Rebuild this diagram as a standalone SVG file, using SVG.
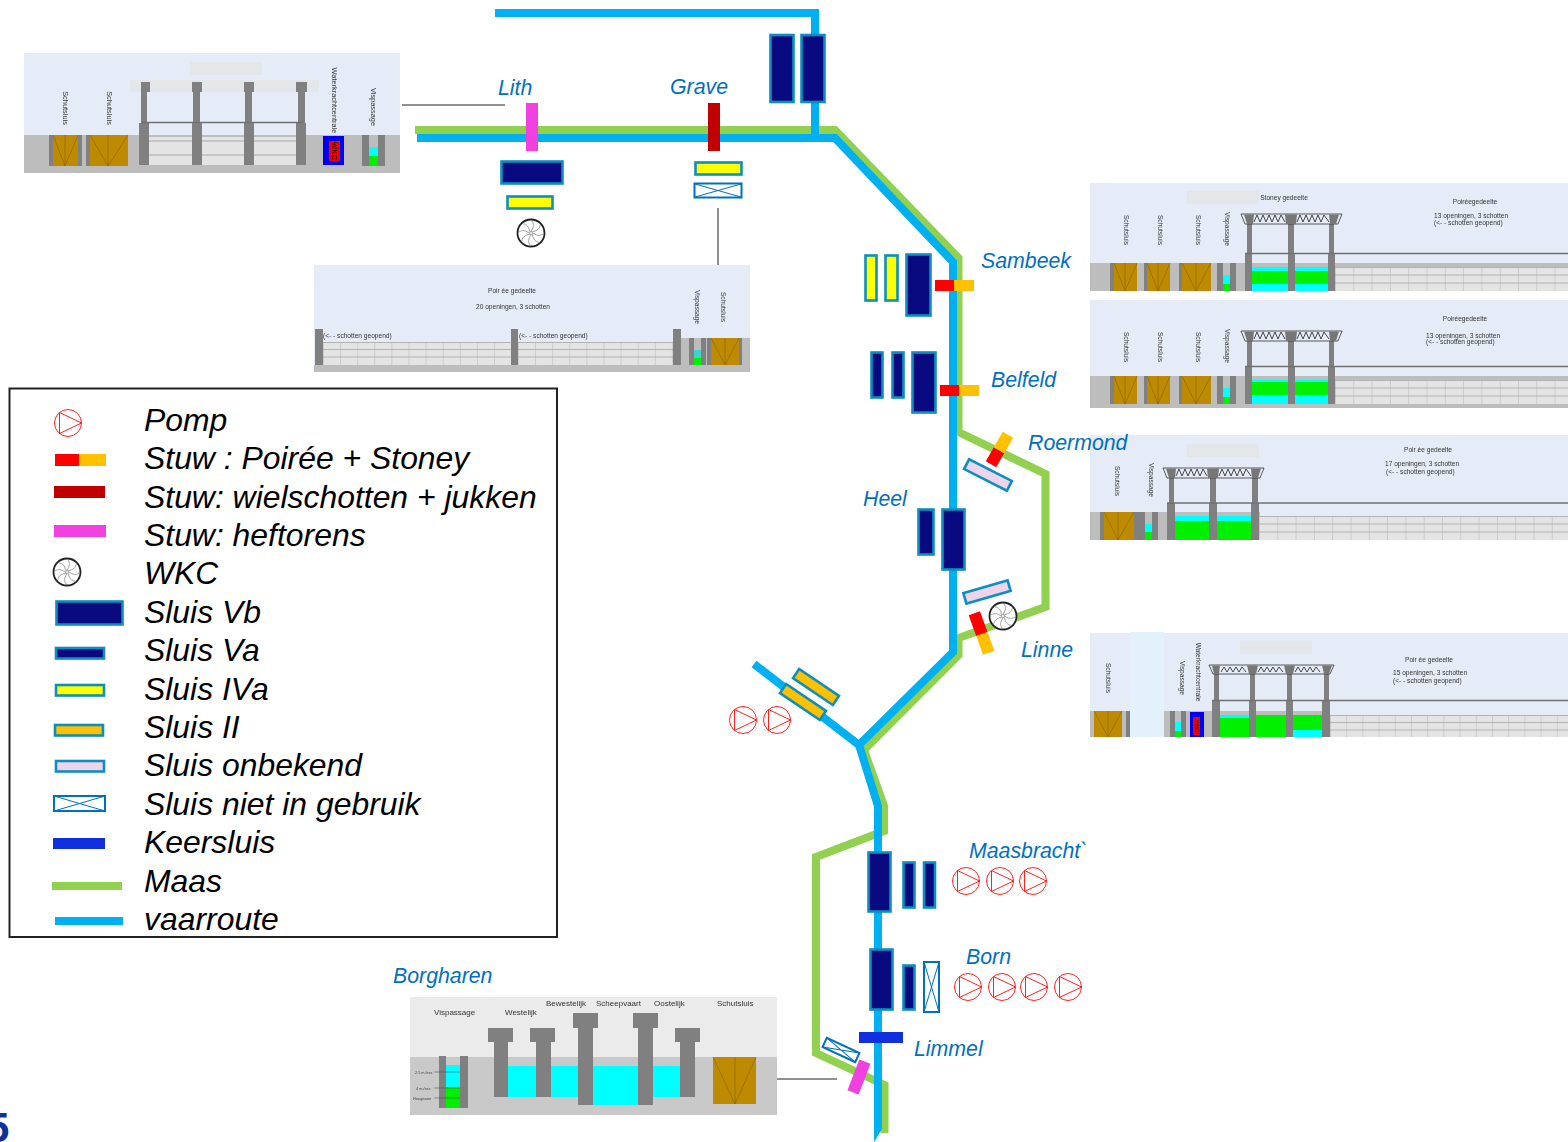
<svg xmlns="http://www.w3.org/2000/svg" width="1568" height="1142" viewBox="0 0 1568 1142">
<style>
text{font-family:"Liberation Sans",Arial,sans-serif}
.lbl{font-size:21.3px;font-style:italic;fill:#0070c0}
.leg{font-size:31.9px;font-style:italic;fill:#000}
.t{font-size:6.6px;fill:#333}
.t7{font-size:7.4px;fill:#333}
.sky{fill:#e6ecf7}
.gnd{fill:#bdbdbd}
.pier{fill:#808080}
.cy{fill:#00ffff}
.gr{fill:#00f000}
.ph{fill:#e4e7ea}
.ochre{fill:#bd8a00}
.mitre{stroke:#8a6500;stroke-width:.6;fill:none}
.beam{stroke:#707070;stroke-width:1.6;fill:none}
.vb{fill:#0a0a80;stroke:#0a8fc0;stroke-width:2.6}
.iva{fill:#ffff00;stroke:#0a8fc0;stroke-width:2.6}
.ii{fill:#ffc000;stroke:#0a8fc0;stroke-width:2.6}
.onb{fill:#efd3ea;stroke:#0a8fc0;stroke-width:2.6}
.nu{fill:#fff;stroke:#0070c0;stroke-width:2}
.nul{stroke:#0070c0;stroke-width:1;fill:none}
.red{fill:#ff0000}.org{fill:#ffc000}.dred{fill:#c00000}.mag{fill:#f040e0}.kr{fill:#1030e0}
.maas{fill:none;stroke:#92d050;stroke-width:8}
.route{fill:none;stroke:#00b0f0;stroke-width:8}
.lead{stroke:#222;stroke-width:1;fill:none}
.zig{stroke:#333;stroke-width:.9;fill:none}
</style>
<defs>
<filter id="soft" x="-2%" y="-2%" width="104%" height="104%"><feGaussianBlur stdDeviation="0.55"/></filter>
<pattern id="g18" width="18.3" height="24" patternUnits="userSpaceOnUse"><rect width="18.3" height="24" fill="#e4e4e4"/><path d="M0 0V24M0 .5H18.3M0 8H18.3M0 16H18.3" stroke="#a8a8a8" stroke-width=".8"/></pattern>
<pattern id="g17" width="17.1" height="23" patternUnits="userSpaceOnUse"><rect width="17.1" height="23" fill="#e4e4e4"/><path d="M0 0V23M0 .5H17.1M0 7.5H17.1M0 15H17.1" stroke="#a8a8a8" stroke-width=".8"/></pattern>
<pattern id="g16" width="16.2" height="22" patternUnits="userSpaceOnUse"><rect width="16.2" height="22" fill="#e4e4e4"/><path d="M0 0V22M0 .5H16.2M0 7.5H16.2M0 15H16.2" stroke="#a8a8a8" stroke-width=".8"/></pattern>
<symbol id="pump" viewBox="-14 -14 28 28" width="28" height="28" overflow="visible"><circle r="13.5" fill="#fff" stroke="#ff2020" stroke-width="1"/><path d="M-8.500-10.500L13.500 0L-8.500 10.500Z" fill="none" stroke="#ff2020" stroke-width="1"/></symbol>
<symbol id="wkc" viewBox="-15 -15 30 30" width="30" height="30" overflow="visible"><circle r="13.5" fill="#fff" stroke="#222" stroke-width="1.8"/><g fill="none" stroke="#888" stroke-width=".8"><circle r="1.5"/><path d="M0-2C3-6 3-9 1-12"/><path d="M0-2C3-6 3-9 1-12" transform="rotate(45)"/><path d="M0-2C3-6 3-9 1-12" transform="rotate(90)"/><path d="M0-2C3-6 3-9 1-12" transform="rotate(135)"/><path d="M0-2C3-6 3-9 1-12" transform="rotate(180)"/><path d="M0-2C3-6 3-9 1-12" transform="rotate(225)"/><path d="M0-2C3-6 3-9 1-12" transform="rotate(270)"/><path d="M0-2C3-6 3-9 1-12" transform="rotate(315)"/></g></symbol>
<g id="truss2"><path d="M0 0H101L97 10H4Z" fill="#e6ecf7" stroke="#333" stroke-width=".8"/><path d="M3 .5H13L12 10H6ZM44 .5H56L55 10H45ZM88 .5H98L95 10H89Z" fill="#777"/><path class="zig" d="M13 8L16 1L19 8L22 1L25 8L28 1L31 8L34 1L37 8L40 1L44 8M56 8L59 1L62 8L65 1L68 8L71 1L74 8L77 1L80 8L83 1L88 8"/></g>
</defs>

<g id="connectors">
<path class="maas" d="M415 130H835L958.500 258V432L1045.500 474V607L958.500 638V655L864 750L884 806V831L816 857V1053L884.500 1085V1133"/>
<path class="route" d="M495 13H815V135M417 138H835L953 262V652L859 745L878 806V1128M754 664L859 745"/>
<path d="M874 1127H882V1129L874 1142Z" fill="#00b0f0"/>
<path class="lead" d="M402 105H505M718 208V276M777 1079H837"/>
</g>

<g id="panel-lith" filter="url(#soft)">
<rect class="sky" x="24" y="53" width="376" height="120"/><rect class="gnd" x="24" y="135" width="376" height="38"/>
<rect class="ph" x="190" y="62" width="72" height="13"/><rect class="ph" x="130" y="80" width="189" height="12"/>
<rect class="pier" x="49" y="135" width="33" height="31"/><rect class="ochre" x="53" y="135" width="25" height="31"/><path class="mitre" d="M53 135L65 166L78 135M65 135V166"/>
<rect class="pier" x="86" y="135" width="42" height="31"/><rect class="ochre" x="90" y="135" width="38" height="31"/><path class="mitre" d="M90 135L108 166L128 135M108 135V166"/>
<rect x="149" y="137" width="147" height="28" fill="#e4e4e4"/><path d="M149 141H296M149 155H296" stroke="#a8a8a8"/>
<g class="pier"><rect x="139" y="123" width="10" height="42"/><rect x="192" y="123" width="10" height="42"/><rect x="244" y="123" width="10" height="42"/><rect x="296" y="123" width="10" height="42"/><rect x="141" y="92" width="6" height="31"/><rect x="193" y="92" width="7" height="31"/><rect x="245" y="92" width="7" height="31"/><rect x="298" y="92" width="7" height="31"/><rect x="141" y="82" width="9" height="10"/><rect x="192" y="82" width="10" height="10"/><rect x="244" y="82" width="10" height="10"/><rect x="296" y="82" width="11" height="10"/></g>
<path class="beam" d="M141 122.500H303"/>
<rect x="323" y="136" width="21" height="29" fill="#0000f0"/><rect x="329" y="141" width="11" height="20" fill="#f00000"/><text transform="translate(331.500 151) rotate(90)" font-size="8" text-anchor="middle" fill="#111">WKC</text>
<rect class="pier" x="362" y="135" width="7" height="31"/><rect class="pier" x="378" y="135" width="7" height="31"/><rect class="cy" x="369" y="147" width="9" height="9"/><rect class="gr" x="369" y="156" width="9" height="10"/>
<text transform="translate(63 108) rotate(90)" text-anchor="middle" class="t7">Schutsluis</text><text transform="translate(107 108) rotate(90)" text-anchor="middle" class="t7">Schutsluis</text><text transform="translate(332 100.500) rotate(90)" text-anchor="middle" class="t7">Waterkrachtcentrale</text><text transform="translate(371 107) rotate(90)" text-anchor="middle" class="t7">Vispassage</text>
</g>

<g id="panel-grave" filter="url(#soft)">
<rect class="sky" x="314" y="265" width="436" height="107"/><rect class="gnd" x="314" y="365" width="436" height="7"/><rect class="gnd" x="681" y="338" width="69" height="27"/>
<rect transform="translate(323 342)" width="188" height="23" fill="url(#g17)"/><rect transform="translate(518 342)" width="155" height="23" fill="url(#g17)"/>
<g class="pier"><rect x="315" y="329" width="8" height="36"/><rect x="511" y="329" width="7" height="36"/><rect x="673" y="329" width="8" height="36"/><rect x="689" y="338" width="5" height="27"/><rect x="701" y="338" width="5" height="27"/><rect x="738" y="338" width="4" height="27"/><rect x="707" y="338" width="4" height="27"/></g>
<rect x="694" y="350" width="7" height="8" fill="#40d0d0"/><rect class="gr" x="694" y="358" width="7" height="7"/>
<rect class="ochre" x="711" y="338" width="28" height="27"/><path class="mitre" d="M711 338L725 365L739 338M725 338V365"/>
<text class="t" x="512" y="293" text-anchor="middle">Poir ée gedeelte</text><text class="t" x="513" y="309" text-anchor="middle">20 openingen, 3 schotten</text>
<text class="t" x="323" y="338">(&lt;- - schotten geopend)</text><text class="t" x="519" y="338">(&lt;- - schotten geopend)</text>
<text transform="translate(695 307) rotate(90)" text-anchor="middle" class="t">Vispassage</text><text transform="translate(721 307) rotate(90)" text-anchor="middle" class="t">Schutsluis</text>
</g>

<g id="panel-sambeek" filter="url(#soft)">
<rect class="sky" x="1090" y="183" width="478" height="108"/><rect class="gnd" x="1090" y="263" width="478" height="28"/>
<rect class="ph" x="1187" y="191" width="72" height="13"/>
<rect transform="translate(1335 267)" width="233" height="24" fill="url(#g18)"/>
<g class="pier"><rect x="1110" y="263" width="4" height="28"/><rect x="1144" y="263" width="3" height="28"/><rect x="1179" y="263" width="3" height="28"/><rect x="1217" y="263" width="6" height="28"/><rect x="1230" y="263" width="6" height="28"/></g>
<g class="ochre"><rect x="1114" y="263" width="23" height="28"/><rect x="1147" y="263" width="23" height="28"/><rect x="1182" y="263" width="29" height="28"/></g>
<path class="mitre" d="M1114 263L1125 291L1137 263M1125 263V291M1147 263L1158 291L1170 263M1158 263V291M1182 263L1196 291L1211 263M1196 263V291"/>
<rect class="cy" x="1223" y="275" width="7" height="9"/><rect class="gr" x="1223" y="284" width="7" height="7"/>
<rect class="cy" x="1252" y="267" width="76" height="24"/><rect class="gr" x="1252" y="271" width="76" height="13"/>
<g class="pier"><rect x="1245" y="254" width="7" height="37"/><rect x="1288" y="254" width="7" height="37"/><rect x="1328" y="254" width="7" height="37"/><rect x="1247" y="224" width="5" height="30"/><rect x="1288" y="224" width="6" height="30"/><rect x="1329" y="224" width="5" height="30"/></g>
<use href="#truss2" x="1241" y="214"/>
<path class="beam" d="M1245 253.500H1568"/>
<text class="t" x="1284" y="200" text-anchor="middle">Stoney gedeelte</text><text class="t" x="1475" y="204" text-anchor="middle">Poiréegedeelte</text>
<text class="t" x="1434" y="218">13 openingen, 3 schotten</text><text class="t" x="1434" y="225">(&lt;- - schotten geopend)</text>
<text transform="translate(1124 230) rotate(90)" text-anchor="middle" class="t">Schutsluis</text><text transform="translate(1158 230) rotate(90)" text-anchor="middle" class="t">Schutsluis</text><text transform="translate(1196 230) rotate(90)" text-anchor="middle" class="t">Schutsluis</text><text transform="translate(1225 229) rotate(90)" text-anchor="middle" class="t">Vispassage</text>
</g>

<g id="panel-belfeld" filter="url(#soft)">
<rect class="sky" x="1090" y="300" width="478" height="108"/><rect class="gnd" x="1090" y="376" width="478" height="32"/>
<rect transform="translate(1335 380)" width="233" height="24" fill="url(#g18)"/>
<g class="pier"><rect x="1110" y="376" width="4" height="28"/><rect x="1144" y="376" width="3" height="28"/><rect x="1179" y="376" width="3" height="28"/><rect x="1217" y="376" width="6" height="28"/><rect x="1230" y="376" width="6" height="28"/></g>
<g class="ochre"><rect x="1114" y="376" width="23" height="28"/><rect x="1147" y="376" width="23" height="28"/><rect x="1182" y="376" width="29" height="28"/></g>
<path class="mitre" d="M1114 376L1125 404L1137 376M1125 376V404M1147 376L1158 404L1170 376M1158 376V404M1182 376L1196 404L1211 376M1196 376V404"/>
<rect class="cy" x="1223" y="388" width="7" height="9"/><rect class="gr" x="1223" y="397" width="7" height="7"/>
<rect class="cy" x="1252" y="380" width="76" height="24"/><rect class="gr" x="1252" y="382" width="76" height="13"/>
<g class="pier"><rect x="1245" y="367" width="7" height="37"/><rect x="1288" y="367" width="7" height="37"/><rect x="1328" y="367" width="7" height="37"/><rect x="1247" y="341" width="5" height="26"/><rect x="1288" y="341" width="6" height="26"/><rect x="1329" y="341" width="5" height="26"/></g>
<use href="#truss2" x="1241" y="331"/>
<path class="beam" d="M1245 366.500H1568"/>
<text class="t" x="1465" y="321" text-anchor="middle">Poiréegedeelte</text>
<text class="t" x="1426" y="338">13 openingen, 3 schotten</text><text class="t" x="1426" y="344">(&lt;- - schotten geopend)</text>
<text transform="translate(1124 347) rotate(90)" text-anchor="middle" class="t">Schutsluis</text><text transform="translate(1158 347) rotate(90)" text-anchor="middle" class="t">Schutsluis</text><text transform="translate(1196 347) rotate(90)" text-anchor="middle" class="t">Schutsluis</text><text transform="translate(1225 346) rotate(90)" text-anchor="middle" class="t">Vispassage</text>
</g>

<g id="panel-roermond" filter="url(#soft)">
<rect class="sky" x="1090" y="435" width="478" height="105"/><rect class="gnd" x="1090" y="512" width="170" height="28"/>
<rect class="ph" x="1187" y="444" width="72" height="13"/>
<rect transform="translate(1259 516)" width="309" height="24" fill="url(#g18)"/>
<g class="pier"><rect x="1100" y="512" width="39" height="28"/><rect x="1139" y="512" width="6" height="28"/><rect x="1152" y="512" width="6" height="28"/></g>
<rect class="ochre" x="1104" y="512" width="30" height="28"/><path class="mitre" d="M1104 512L1118 540L1134 512M1118 512V540"/>
<rect class="cy" x="1145" y="524" width="7" height="8"/><rect class="gr" x="1145" y="532" width="7" height="8"/>
<rect class="cy" x="1175" y="516" width="76" height="24"/><rect class="gr" x="1175" y="521" width="76" height="19"/>
<g class="pier"><rect x="1167" y="503" width="8" height="37"/><rect x="1209" y="503" width="8" height="37"/><rect x="1251" y="503" width="8" height="37"/><rect x="1169" y="477" width="5" height="26"/><rect x="1210" y="477" width="6" height="26"/><rect x="1252" y="477" width="6" height="26"/></g>
<use href="#truss2" x="1163" y="468"/>
<path class="beam" d="M1167 503H1568"/>
<text class="t" x="1428" y="452" text-anchor="middle">Poir ée gedeelte</text>
<text class="t" x="1385" y="466">17 openingen, 3 schotten</text><text class="t" x="1386" y="474">(&lt;- - schotten geopend)</text>
<text transform="translate(1115 481) rotate(90)" text-anchor="middle" class="t">Schutsluis</text><text transform="translate(1149 480) rotate(90)" text-anchor="middle" class="t">Vispassage</text>
</g>

<g id="panel-linne" filter="url(#soft)">
<rect class="sky" x="1090" y="633" width="478" height="104"/><rect class="gnd" x="1090" y="711" width="240" height="26"/>
<rect class="ph" x="1240" y="641" width="72" height="13"/>
<rect transform="translate(1330 715)" width="238" height="22" fill="url(#g16)"/>
<rect class="ochre" x="1094" y="711" width="28" height="26"/><path class="mitre" d="M1094 711L1108 737L1122 711M1108 711V737"/>
<rect class="pier" x="1126" y="711" width="4" height="26"/>
<rect x="1130" y="632" width="34" height="105" fill="#e3f1fb"/>
<g class="pier"><rect x="1170" y="711" width="5" height="26"/><rect x="1181" y="711" width="5" height="26"/></g>
<rect class="cy" x="1175" y="722" width="6" height="9"/><rect class="gr" x="1175" y="731" width="6" height="6"/>
<rect x="1190" y="712" width="14" height="25" fill="#0000f0"/><rect x="1193" y="717" width="7" height="18" fill="#f00000"/><text transform="translate(1194.500 726) rotate(90)" font-size="5" text-anchor="middle" fill="#111">WKC</text>
<rect class="gr" x="1220" y="715" width="102" height="22"/><rect class="cy" x="1220" y="715" width="29" height="3"/><rect class="cy" x="1293" y="730" width="29" height="7"/>
<g class="pier"><rect x="1212" y="701" width="8" height="36"/><rect x="1249" y="701" width="7" height="36"/><rect x="1286" y="701" width="7" height="36"/><rect x="1322" y="701" width="8" height="36"/><rect x="1214" y="674" width="5" height="27"/><rect x="1250" y="674" width="5" height="27"/><rect x="1287" y="674" width="5" height="27"/><rect x="1324" y="674" width="5" height="27"/></g>
<path d="M1209 665H1334L1330 674H1213Z" fill="#e6ecf7" stroke="#333" stroke-width=".8"/><path d="M1212 665.500H1220L1219 674H1214ZM1247 665.500H1258L1256 674H1249ZM1284 665.500H1295L1293 674H1286ZM1322 665.500H1332L1329 674H1324Z" fill="#777"/><path class="zig" d="M1221 672L1224 667L1227 672L1230 667L1233 672L1236 667L1239 672L1242 667L1246 672M1258 672L1261 667L1264 672L1267 667L1270 672L1273 667L1276 672L1279 667L1283 672M1295 672L1298 667L1301 672L1304 667L1307 672L1310 667L1313 672L1316 667L1320 672"/>
<path class="beam" d="M1212 700.500H1568"/>
<text class="t" x="1429" y="662" text-anchor="middle">Poir ée gedeelte</text>
<text class="t" x="1393" y="675">15 openingen, 3 schotten</text><text class="t" x="1393" y="683">(&lt;- - schotten geopend)</text>
<text transform="translate(1106 678) rotate(90)" text-anchor="middle" class="t">Schutsluis</text><text transform="translate(1180 678) rotate(90)" text-anchor="middle" class="t">Vispassage</text><text transform="translate(1196 672) rotate(90)" text-anchor="middle" class="t">Waterkrachtcentrale</text>
</g>

<g id="panel-borgharen" filter="url(#soft)">
<rect x="410" y="997" width="367" height="118" fill="#ebebeb"/><rect x="410" y="1057" width="367" height="58" fill="#c9c9c9"/>
<rect class="cy" x="508" y="1066" width="172" height="31"/><rect class="cy" x="593" y="1066" width="45" height="39"/>
<g class="pier"><rect x="439" y="1056" width="7" height="52"/><rect x="460" y="1056" width="8" height="52"/><rect x="439" y="1106" width="29" height="2"/><rect x="488" y="1028" width="25" height="14"/><rect x="494" y="1042" width="14" height="55"/><rect x="530" y="1028" width="25" height="14"/><rect x="536" y="1042" width="15" height="55"/><rect x="573" y="1013" width="25" height="15"/><rect x="578" y="1028" width="15" height="77"/><rect x="633" y="1013" width="25" height="15"/><rect x="638" y="1028" width="15" height="77"/><rect x="675" y="1028" width="25" height="14"/><rect x="680" y="1042" width="15" height="55"/></g>
<rect class="cy" x="446" y="1065" width="14" height="22"/><rect class="gr" x="446" y="1087" width="14" height="21"/>
<rect class="ochre" x="713" y="1057" width="43" height="47"/><path class="mitre" d="M713 1057L735 1104L756 1057M735 1057V1104"/>
<path d="M434 1072H460M434 1088H460M434 1098H460" stroke="#444" stroke-width=".5"/>
<text x="415" y="1073.500" style="font-size:3.800px" fill="#444">2.5 m³/sec</text><text x="416" y="1089.500" style="font-size:3.800px" fill="#444">4 m³/sec</text><text x="413" y="1099.500" style="font-size:3.800px" fill="#444">Hoogwater</text>
<text x="434" y="1015" style="font-size:8px" fill="#333">Vispassage</text><text x="505" y="1015" style="font-size:8px" fill="#333">Westelijk</text><text x="546" y="1006" style="font-size:8px" fill="#333">Bewestelijk</text><text x="596" y="1006" style="font-size:8px" fill="#333">Scheepvaart</text><text x="654" y="1006" style="font-size:8px" fill="#333">Oostelijk</text><text x="717" y="1006" style="font-size:8px" fill="#333">Schutsluis</text>
</g>

<g id="node-top-lock"><rect class="vb" x="770.500" y="35" width="23" height="67"/><rect class="vb" x="801.500" y="35" width="23" height="67"/></g>
<g id="node-lith"><rect class="mag" x="526" y="103" width="12" height="48"/><rect class="vb" x="501.500" y="161.500" width="61" height="22"/><rect class="iva" x="507.500" y="196.500" width="45" height="12"/><use href="#wkc" x="516" y="218"/><text class="lbl" x="498" y="95">Lith</text></g>
<g id="node-grave"><rect class="dred" x="708" y="103" width="12" height="48"/><rect class="iva" x="695.500" y="162.500" width="46" height="12"/><rect class="nu" x="694.500" y="183.500" width="47" height="14"/><path class="nul" d="M695 184L741 197M741 184L695 197"/><text class="lbl" x="670" y="94">Grave</text></g>
<g id="node-sambeek"><rect class="iva" x="865.500" y="255.500" width="11" height="45"/><rect class="iva" x="885.500" y="255.500" width="12" height="45"/><rect class="vb" x="906.500" y="254.500" width="24" height="61"/><rect class="red" x="935" y="280" width="19" height="11"/><rect class="org" x="954" y="280" width="20" height="11"/><text class="lbl" x="981" y="268">Sambeek</text></g>
<g id="node-belfeld"><rect class="vb" x="871.500" y="352.500" width="11" height="45"/><rect class="vb" x="892.500" y="352.500" width="11" height="45"/><rect class="vb" x="912.500" y="352.500" width="23" height="60"/><rect class="red" x="940" y="385" width="19" height="11"/><rect class="org" x="959" y="385" width="20" height="11"/><text class="lbl" x="991" y="387">Belfeld</text></g>
<g id="node-roermond"><g transform="translate(999.500 449.500) rotate(-60)"><rect class="red" x="-17" y="-6" width="16" height="12"/><rect class="org" x="-1" y="-6" width="18" height="12"/></g><rect class="onb" transform="translate(988 475) rotate(27)" x="-24" y="-5.500" width="48" height="11"/><text class="lbl" x="1028" y="450">Roermond</text></g>
<g id="node-heel"><rect class="vb" x="918.500" y="509.500" width="15" height="45"/><rect class="vb" x="942.500" y="509.500" width="22" height="60"/><text class="lbl" x="863" y="506">Heel</text></g>
<g id="node-linne"><rect class="onb" transform="translate(987 592) rotate(-16)" x="-23" y="-5.500" width="46" height="11"/><g transform="translate(981.500 633) rotate(70)"><rect class="red" x="-21" y="-6" width="22" height="12"/><rect class="org" x="1" y="-6" width="20" height="12"/></g><use href="#wkc" x="988" y="601"/><text class="lbl" x="1021" y="657">Linne</text></g>
<g id="node-pumps"><rect class="ii" transform="translate(816 687) rotate(34)" x="-24" y="-5.500" width="48" height="11"/><rect class="ii" transform="translate(803 702) rotate(34)" x="-24" y="-5.500" width="48" height="11"/><use href="#pump" x="729" y="706"/><use href="#pump" x="763" y="706"/></g>
<g id="node-maasbracht"><rect class="vb" x="868.500" y="852.500" width="22" height="59"/><rect class="vb" x="903.500" y="862.500" width="11" height="45"/><rect class="vb" x="924" y="862.500" width="11" height="45"/><use href="#pump" x="952" y="867"/><use href="#pump" x="986" y="867"/><use href="#pump" x="1019" y="867"/><text class="lbl" x="969" y="858">Maasbracht`</text></g>
<g id="node-born"><rect class="vb" x="870.500" y="949.500" width="22" height="60"/><rect class="vb" x="903.500" y="965.500" width="11" height="44"/><rect class="nu" x="924" y="962" width="15" height="50"/><path class="nul" d="M924 962L939 1012M939 962L924 1012"/><use href="#pump" x="954" y="973"/><use href="#pump" x="988" y="973"/><use href="#pump" x="1020" y="973"/><use href="#pump" x="1054" y="973"/><text class="lbl" x="966" y="964">Born</text></g>
<g id="node-limmel"><rect class="kr" x="859" y="1032" width="44" height="11"/><g transform="translate(841 1050) rotate(25)"><rect class="nu" x="-18" y="-5" width="36" height="10"/><path class="nul" d="M-18-5L18 5M18-5L-18 5"/></g><rect class="mag" transform="translate(859 1077) rotate(21)" x="-6" y="-16.500" width="12" height="33"/><text class="lbl" x="914" y="1056">Limmel</text></g>
<g id="node-borgharen-label"><text class="lbl" x="393" y="983">Borgharen</text></g>

<g id="legend">
<rect x="9.500" y="388.500" width="547.500" height="548.500" fill="#fff" stroke="#222" stroke-width="2"/>
<use href="#pump" x="54" y="409"/>
<rect class="red" x="55" y="454" width="24" height="12"/><rect class="org" x="79" y="454" width="27" height="12"/>
<rect class="dred" x="54" y="486" width="51" height="12"/>
<rect class="mag" x="54" y="525" width="52" height="12"/>
<use href="#wkc" x="52" y="557"/>
<rect class="vb" x="56.500" y="601.500" width="66" height="23"/>
<rect class="vb" x="56" y="648" width="48" height="10.500"/>
<rect class="iva" x="56" y="685" width="48" height="10.500"/>
<rect class="ii" x="55" y="725" width="48" height="10.500"/>
<rect class="onb" x="56" y="761" width="48" height="10.500"/>
<rect class="nu" x="54" y="796" width="51" height="15"/><path class="nul" d="M54 796L105 811M105 796L54 811"/>
<rect class="kr" x="53" y="838" width="52" height="11"/>
<rect x="52" y="882" width="70" height="8" fill="#92d050"/>
<rect x="55" y="917" width="68" height="8" fill="#00b0f0"/>
<text class="leg" x="144" y="431">Pomp</text>
<text class="leg" x="144" y="469">Stuw : Poirée + Stoney</text>
<text class="leg" x="144" y="508">Stuw: wielschotten + jukken</text>
<text class="leg" x="144" y="546">Stuw: heftorens</text>
<text class="leg" x="144" y="584">WKC</text>
<text class="leg" x="144" y="623">Sluis Vb</text>
<text class="leg" x="144" y="661">Sluis Va</text>
<text class="leg" x="144" y="700">Sluis IVa</text>
<text class="leg" x="144" y="738">Sluis II</text>
<text class="leg" x="144" y="776">Sluis onbekend</text>
<text class="leg" x="144" y="815">Sluis niet in gebruik</text>
<text class="leg" x="144" y="853">Keersluis</text>
<text class="leg" x="144" y="892">Maas</text>
<text class="leg" x="144" y="930">vaarroute</text>
</g>
<text id="page-no" x="-14" y="1142" font-size="42" font-weight="bold" fill="#10309a">5</text>
</svg>
